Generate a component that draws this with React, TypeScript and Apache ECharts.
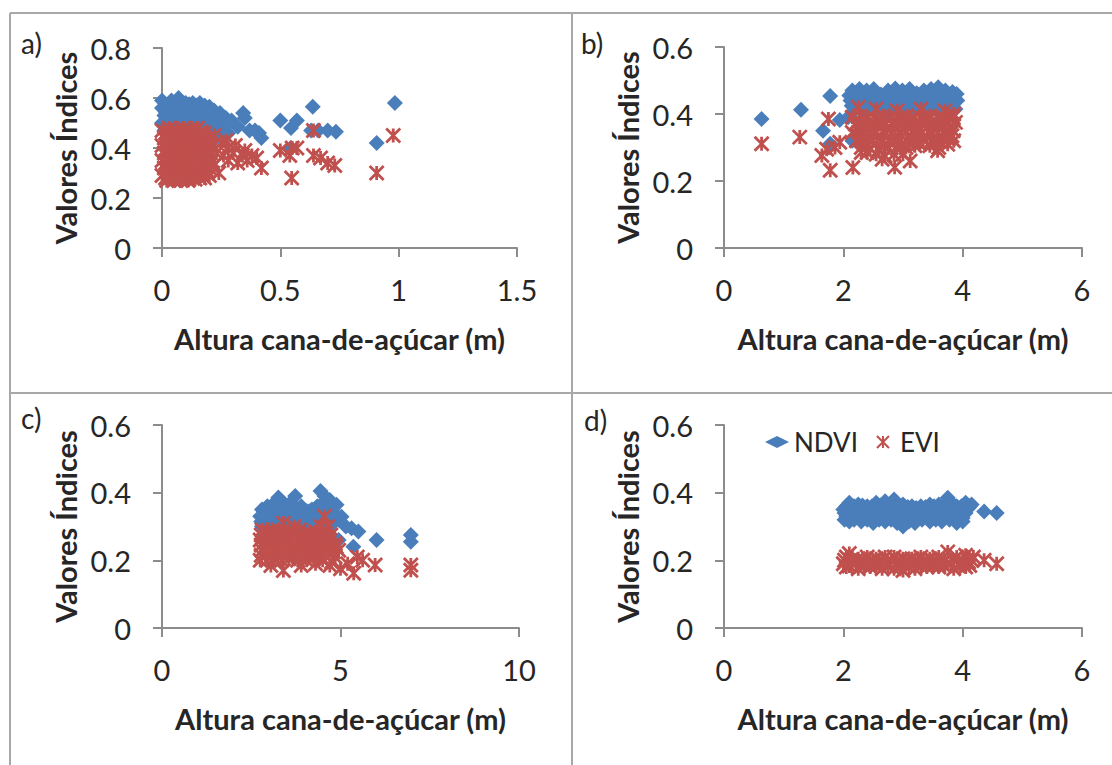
import React, { useEffect, useRef } from 'react';
import * as echarts from 'echarts';

const FONT = 'Lato, "DejaVu Sans", sans-serif';
const BLUE = '#4A7EBB';
const RED = '#C0504D';
const AXIS = '#8C8C8C';
const TEXT = '#262626';
const BORDER = '#A8A8A8';
const STAR = 'path://M0,0L10,10M10,0L0,10M5,0L5,10';

const seriesNames = ['NDVI', 'EVI'];
const panelLabels = ['a)', 'b)', 'c)', 'd)'];
const xTitle = 'Altura cana-de-açúcar (m)';
const yTitle = 'Valores Índices';
const xMax = [1.5, 6, 10, 6];
const xStep = [0.5, 2, 5, 2];
const yMax = [0.8, 0.6, 0.6, 0.6];
const yStep = [0.2, 0.2, 0.2, 0.2];

// Panel a) NDVI
const aNdvi = [
  [0.00, 0.59], [0.02, 0.57], [0.04, 0.59], [0.07, 0.60], [0.10, 0.58], [0.13, 0.58], [0.16, 0.58], [0.18, 0.57],
  [0.015, 0.575], [0.055, 0.58], [0.085, 0.57], [0.115, 0.575], [0.145, 0.57], [0.175, 0.56], [0.20, 0.565],
  [0.00, 0.56], [0.03, 0.55], [0.06, 0.56], [0.09, 0.55], [0.12, 0.56], [0.15, 0.55], [0.19, 0.55], [0.22, 0.55],
  [0.015, 0.545], [0.045, 0.54], [0.08, 0.545], [0.135, 0.54], [0.165, 0.54], [0.21, 0.54],
  [0.01, 0.53], [0.04, 0.52], [0.07, 0.53], [0.11, 0.52], [0.14, 0.53], [0.17, 0.52], [0.20, 0.53], [0.245, 0.54],
  [0.02, 0.515], [0.055, 0.51], [0.09, 0.515], [0.125, 0.515], [0.18, 0.51], [0.22, 0.52],
  [0.00, 0.50], [0.03, 0.49], [0.06, 0.50], [0.09, 0.49], [0.12, 0.50], [0.16, 0.49], [0.19, 0.50], [0.23, 0.50], [0.27, 0.52],
  [0.02, 0.485], [0.07, 0.485], [0.10, 0.48], [0.14, 0.485], [0.17, 0.48], [0.215, 0.49], [0.26, 0.49],
  [0.01, 0.47], [0.05, 0.46], [0.08, 0.47], [0.11, 0.46], [0.14, 0.47], [0.18, 0.46], [0.21, 0.47], [0.25, 0.465],
  [0.02, 0.44], [0.06, 0.43], [0.10, 0.44], [0.147, 0.425], [0.19, 0.44], [0.23, 0.44],
  [0.294, 0.51], [0.32, 0.485], [0.343, 0.54], [0.35, 0.52], [0.37, 0.47], [0.393, 0.47], [0.41, 0.46], [0.42, 0.44], [0.28, 0.46],
  [0.50, 0.51], [0.545, 0.48], [0.57, 0.51], [0.545, 0.40], [0.637, 0.565], [0.63, 0.47], [0.66, 0.47], [0.70, 0.47],
  [0.735, 0.465], [0.907, 0.42], [0.984, 0.58]
];
// Panel a) EVI
const aEvi = [
  [0.00, 0.47], [0.03, 0.48], [0.06, 0.47], [0.09, 0.48], [0.12, 0.47], [0.15, 0.48], [0.18, 0.46],
  [0.015, 0.46], [0.045, 0.465], [0.075, 0.46], [0.105, 0.465], [0.135, 0.46], [0.165, 0.465],
  [0.01, 0.44], [0.04, 0.45], [0.07, 0.44], [0.10, 0.45], [0.13, 0.44], [0.16, 0.45], [0.19, 0.43],
  [0.02, 0.43], [0.05, 0.425], [0.085, 0.43], [0.115, 0.425], [0.145, 0.43], [0.175, 0.42], [0.20, 0.44],
  [0.00, 0.41], [0.03, 0.42], [0.06, 0.41], [0.09, 0.42], [0.12, 0.41], [0.15, 0.42], [0.18, 0.40], [0.21, 0.41],
  [0.015, 0.395], [0.05, 0.40], [0.08, 0.395], [0.11, 0.40], [0.145, 0.395], [0.17, 0.38], [0.20, 0.39],
  [0.01, 0.38], [0.04, 0.39], [0.07, 0.38], [0.10, 0.39], [0.13, 0.38], [0.16, 0.39], [0.19, 0.37],
  [0.02, 0.365], [0.05, 0.37], [0.08, 0.365], [0.11, 0.37], [0.14, 0.365], [0.17, 0.36], [0.20, 0.37],
  [0.00, 0.35], [0.03, 0.36], [0.06, 0.35], [0.09, 0.36], [0.12, 0.35], [0.15, 0.36], [0.18, 0.34], [0.21, 0.35],
  [0.015, 0.34], [0.05, 0.345], [0.085, 0.34], [0.115, 0.34], [0.145, 0.345], [0.17, 0.32], [0.20, 0.32],
  [0.01, 0.32], [0.04, 0.33], [0.07, 0.32], [0.10, 0.33], [0.13, 0.32], [0.16, 0.33], [0.19, 0.31],
  [0.02, 0.31], [0.05, 0.305], [0.08, 0.31], [0.11, 0.31], [0.14, 0.31], [0.165, 0.295],
  [0.00, 0.29], [0.03, 0.30], [0.06, 0.29], [0.09, 0.30], [0.12, 0.29], [0.15, 0.30], [0.18, 0.28],
  [0.015, 0.28], [0.045, 0.285], [0.075, 0.28], [0.105, 0.285], [0.13, 0.28], [0.16, 0.28],
  [0.02, 0.27], [0.05, 0.27], [0.08, 0.27], [0.11, 0.27], [0.14, 0.275],
  [0.22, 0.45], [0.25, 0.42], [0.27, 0.43], [0.23, 0.38], [0.26, 0.37], [0.28, 0.35], [0.30, 0.38], [0.32, 0.34],
  [0.31, 0.41], [0.35, 0.39], [0.36, 0.35], [0.38, 0.37], [0.40, 0.36], [0.42, 0.32], [0.24, 0.30], [0.22, 0.33],
  [0.20, 0.29], [0.50, 0.39], [0.54, 0.37], [0.55, 0.40], [0.57, 0.40], [0.548, 0.28], [0.64, 0.47], [0.64, 0.37],
  [0.67, 0.36], [0.70, 0.34], [0.73, 0.33], [0.907, 0.30], [0.977, 0.45], [0.34, 0.37], [0.28, 0.40]
];
// Panel b) NDVI
const bNdvi = [
  [2.15, 0.47], [2.27, 0.475], [2.39, 0.47], [2.51, 0.475], [2.63, 0.458], [2.75, 0.47], [2.87, 0.476], [2.99, 0.47],
  [3.11, 0.475], [3.23, 0.462], [3.35, 0.47], [3.47, 0.475], [3.59, 0.48], [3.71, 0.47], [3.83, 0.466],
  [2.10, 0.455], [2.21, 0.458], [2.33, 0.455], [2.45, 0.458], [2.57, 0.452], [2.69, 0.456], [2.81, 0.458], [2.93, 0.455],
  [3.05, 0.457], [3.17, 0.45], [3.29, 0.456], [3.41, 0.458], [3.53, 0.455], [3.65, 0.457], [3.77, 0.455], [3.90, 0.46],
  [2.12, 0.44], [2.25, 0.442], [2.38, 0.44], [2.51, 0.438], [2.64, 0.44], [2.77, 0.442], [2.90, 0.44], [3.03, 0.438],
  [3.16, 0.44], [3.29, 0.442], [3.42, 0.44], [3.55, 0.438], [3.68, 0.44], [3.81, 0.442], [3.91, 0.44],
  [2.14, 0.425], [2.28, 0.422], [2.42, 0.425], [2.56, 0.428], [2.70, 0.425], [2.84, 0.422], [2.98, 0.425], [3.12, 0.428],
  [3.26, 0.425], [3.40, 0.422], [3.54, 0.425], [3.68, 0.428], [3.82, 0.425],
  [2.18, 0.41], [2.35, 0.412], [2.55, 0.41], [2.75, 0.408], [2.95, 0.41], [3.15, 0.40], [3.35, 0.41], [3.55, 0.412],
  [3.75, 0.41], [3.88, 0.415],
  [2.15, 0.32], [2.08, 0.39], [3.05, 0.38], [3.20, 0.36], [2.60, 0.37], [3.60, 0.37],
  [0.63, 0.385], [1.29, 0.413], [1.78, 0.454], [1.66, 0.35], [1.94, 0.382], [1.78, 0.311]
];
// Panel b) EVI
const bEvi = [
  [2.25, 0.42], [2.55, 0.415], [2.90, 0.41], [3.30, 0.415], [3.70, 0.41], [3.85, 0.40],
  [2.15, 0.39], [2.28, 0.395], [2.41, 0.39], [2.54, 0.385], [2.67, 0.395], [2.80, 0.39], [2.93, 0.385], [3.06, 0.395],
  [3.19, 0.39], [3.32, 0.385], [3.45, 0.395], [3.58, 0.39], [3.71, 0.385], [3.84, 0.39],
  [2.36, 0.382], [2.62, 0.38], [2.88, 0.38], [3.14, 0.38], [3.40, 0.38], [3.66, 0.38],
  [2.20, 0.37], [2.33, 0.372], [2.46, 0.368], [2.59, 0.37], [2.72, 0.372], [2.85, 0.368], [2.98, 0.37], [3.11, 0.372],
  [3.24, 0.368], [3.37, 0.37], [3.50, 0.372], [3.63, 0.368], [3.76, 0.37], [3.88, 0.375],
  [2.27, 0.357], [2.47, 0.357], [2.73, 0.356], [2.99, 0.357], [3.26, 0.356], [3.52, 0.357], [3.78, 0.36],
  [2.15, 0.345], [2.28, 0.347], [2.41, 0.343], [2.54, 0.345], [2.67, 0.347], [2.80, 0.343], [2.93, 0.345], [3.06, 0.347],
  [3.19, 0.343], [3.32, 0.345], [3.45, 0.347], [3.58, 0.343], [3.71, 0.345], [3.84, 0.35],
  [2.29, 0.332], [2.57, 0.333], [2.86, 0.332], [3.13, 0.333], [3.40, 0.332], [3.66, 0.333], [3.82, 0.335],
  [2.22, 0.32], [2.36, 0.318], [2.50, 0.322], [2.64, 0.32], [2.78, 0.318], [2.92, 0.322], [3.06, 0.32], [3.20, 0.318],
  [3.34, 0.322], [3.48, 0.32], [3.62, 0.318], [3.76, 0.325],
  [2.37, 0.31], [2.68, 0.308], [2.98, 0.31], [3.28, 0.31], [3.55, 0.312], [3.85, 0.32],
  [2.30, 0.30], [2.45, 0.298], [2.60, 0.295], [2.75, 0.30], [2.90, 0.298], [3.05, 0.30], [3.20, 0.305], [3.45, 0.305],
  [3.60, 0.30], [3.75, 0.31],
  [2.55, 0.28], [2.70, 0.275], [2.85, 0.28], [3.00, 0.28], [2.40, 0.285],
  [0.63, 0.311], [1.27, 0.331], [1.75, 0.385], [1.64, 0.276], [1.78, 0.232], [2.16, 0.24], [1.94, 0.316], [1.72, 0.295],
  [1.86, 0.30], [2.86, 0.241], [3.12, 0.26], [2.65, 0.265], [3.58, 0.29], [2.30, 0.285]
];
// Panel c) NDVI
const cNdvi = [
  [2.80, 0.35], [2.95, 0.36], [3.10, 0.365], [3.26, 0.386], [3.45, 0.365], [3.60, 0.37], [3.73, 0.39], [3.90, 0.36],
  [4.05, 0.345], [4.20, 0.35], [4.35, 0.36], [4.44, 0.405], [4.55, 0.39], [4.70, 0.378], [4.89, 0.364],
  [2.85, 0.345], [3.00, 0.35], [3.15, 0.35], [3.30, 0.355], [3.48, 0.35], [3.65, 0.355], [3.80, 0.35], [3.98, 0.34],
  [4.12, 0.345], [4.28, 0.35], [4.42, 0.36], [4.60, 0.355], [4.78, 0.35],
  [2.75, 0.33], [2.90, 0.33], [3.05, 0.335], [3.20, 0.33], [3.35, 0.335], [3.50, 0.33], [3.65, 0.335], [3.80, 0.33],
  [3.95, 0.325], [4.10, 0.33], [4.25, 0.33], [4.40, 0.335], [4.55, 0.33], [4.75, 0.34],
  [2.78, 0.315], [2.93, 0.315], [3.08, 0.318], [3.23, 0.315], [3.38, 0.318], [3.53, 0.315], [3.68, 0.318], [3.83, 0.315],
  [3.98, 0.31], [4.13, 0.315], [4.28, 0.318], [4.43, 0.315], [4.58, 0.318], [4.73, 0.32], [4.88, 0.33],
  [2.80, 0.30], [2.95, 0.30], [3.10, 0.30], [3.25, 0.30], [3.40, 0.30], [3.55, 0.30], [3.70, 0.30], [3.85, 0.30],
  [4.00, 0.30], [4.15, 0.29], [4.30, 0.30], [4.45, 0.30], [4.60, 0.30], [4.80, 0.31], [4.95, 0.32],
  [2.85, 0.27], [3.20, 0.27], [3.60, 0.27], [4.00, 0.27], [4.40, 0.27], [4.75, 0.27],
  [5.03, 0.329], [5.15, 0.30], [5.31, 0.295], [5.50, 0.285], [6.01, 0.26], [5.36, 0.24], [4.95, 0.26],
  [6.97, 0.275], [6.97, 0.255]
];
// Panel c) EVI
const cEvi = [
  [2.80, 0.29], [2.95, 0.285], [3.10, 0.29], [3.25, 0.29], [3.40, 0.31], [3.55, 0.29], [3.70, 0.30], [3.85, 0.29],
  [4.00, 0.28], [4.15, 0.28], [4.30, 0.285], [4.45, 0.30], [4.55, 0.33], [4.65, 0.30],
  [2.78, 0.275], [2.93, 0.275], [3.08, 0.275], [3.23, 0.278], [3.38, 0.28], [3.53, 0.275], [3.68, 0.28], [3.83, 0.275],
  [3.98, 0.27], [4.13, 0.268], [4.28, 0.272], [4.43, 0.28], [4.58, 0.28], [4.73, 0.275],
  [2.75, 0.26], [2.90, 0.26], [3.05, 0.26], [3.20, 0.26], [3.35, 0.26], [3.50, 0.26], [3.65, 0.26], [3.80, 0.26],
  [3.95, 0.255], [4.10, 0.255], [4.25, 0.26], [4.40, 0.26], [4.55, 0.26], [4.70, 0.26], [4.85, 0.25],
  [2.78, 0.245], [2.93, 0.245], [3.08, 0.245], [3.23, 0.245], [3.38, 0.245], [3.53, 0.245], [3.68, 0.245], [3.83, 0.24],
  [3.98, 0.24], [4.13, 0.24], [4.28, 0.245], [4.43, 0.245], [4.58, 0.24], [4.73, 0.24], [4.88, 0.24],
  [2.80, 0.23], [2.95, 0.23], [3.10, 0.23], [3.25, 0.23], [3.40, 0.23], [3.55, 0.23], [3.70, 0.23], [3.85, 0.225],
  [4.00, 0.23], [4.15, 0.23], [4.30, 0.23], [4.45, 0.225], [4.60, 0.23], [4.80, 0.225], [4.95, 0.23],
  [2.78, 0.215], [2.93, 0.215], [3.08, 0.215], [3.23, 0.215], [3.38, 0.215], [3.53, 0.215], [3.68, 0.215], [3.83, 0.21],
  [3.98, 0.215], [4.13, 0.215], [4.28, 0.215], [4.43, 0.21], [4.58, 0.215], [4.85, 0.21],
  [2.75, 0.20], [2.95, 0.20], [3.15, 0.205], [3.35, 0.20], [3.55, 0.205], [3.80, 0.20], [4.05, 0.20], [4.25, 0.205],
  [4.50, 0.20], [4.75, 0.195],
  [3.40, 0.17], [3.05, 0.185], [3.90, 0.185], [4.30, 0.19], [4.70, 0.185], [5.00, 0.175], [5.37, 0.162], [5.47, 0.21],
  [5.62, 0.20], [5.20, 0.19], [5.97, 0.186], [6.97, 0.186], [6.97, 0.171]
];
// Panel d) NDVI
const dNdvi = [
  [2.10, 0.37], [2.25, 0.365], [2.40, 0.36], [2.55, 0.37], [2.70, 0.375], [2.85, 0.38], [3.00, 0.365], [3.15, 0.36],
  [3.30, 0.36], [3.45, 0.365], [3.60, 0.365], [3.75, 0.385], [3.90, 0.36], [4.05, 0.37], [4.15, 0.365],
  [2.05, 0.36], [2.18, 0.36], [2.32, 0.362], [2.48, 0.36], [2.62, 0.362], [2.78, 0.365], [2.92, 0.36], [3.08, 0.358],
  [3.22, 0.355], [3.38, 0.358], [3.52, 0.36], [3.68, 0.362], [3.84, 0.365], [3.98, 0.36], [4.12, 0.36],
  [2.00, 0.35], [2.15, 0.35], [2.30, 0.35], [2.45, 0.35], [2.60, 0.35], [2.75, 0.35], [2.90, 0.35], [3.05, 0.345],
  [3.20, 0.345], [3.35, 0.35], [3.50, 0.35], [3.65, 0.35], [3.80, 0.35], [3.95, 0.35], [4.10, 0.355],
  [2.02, 0.34], [2.12, 0.34], [2.28, 0.34], [2.42, 0.34], [2.58, 0.34], [2.72, 0.34], [2.88, 0.338], [3.02, 0.335],
  [3.18, 0.335], [3.32, 0.34], [3.48, 0.34], [3.62, 0.34], [3.78, 0.34], [3.92, 0.34], [4.05, 0.34],
  [2.05, 0.33], [2.20, 0.33], [2.35, 0.33], [2.50, 0.33], [2.65, 0.33], [2.80, 0.33], [2.95, 0.325], [3.10, 0.325],
  [3.25, 0.33], [3.40, 0.33], [3.55, 0.33], [3.70, 0.33], [3.85, 0.33], [4.00, 0.325],
  [2.02, 0.32], [2.18, 0.32], [2.40, 0.32], [2.60, 0.32], [2.80, 0.32], [3.10, 0.315], [3.32, 0.32], [3.55, 0.32],
  [3.78, 0.32], [4.00, 0.315],
  [2.10, 0.315], [2.30, 0.315], [2.50, 0.31], [2.70, 0.315], [2.90, 0.31], [3.00, 0.30], [3.20, 0.31], [3.45, 0.315],
  [3.65, 0.315], [3.90, 0.31],
  [4.36, 0.344], [4.57, 0.34]
];
// Panel d) EVI
const dEvi = [
  [2.05, 0.21], [2.10, 0.22], [2.25, 0.205], [2.40, 0.21], [2.55, 0.205], [2.70, 0.21], [2.85, 0.21], [3.00, 0.205],
  [3.15, 0.205], [3.30, 0.21], [3.45, 0.205], [3.60, 0.21], [3.75, 0.225], [3.90, 0.21], [4.05, 0.215], [4.18, 0.21],
  [2.02, 0.20], [2.12, 0.20], [2.22, 0.20], [2.35, 0.20], [2.50, 0.20], [2.65, 0.20], [2.80, 0.20], [2.95, 0.20],
  [3.10, 0.20], [3.25, 0.20], [3.40, 0.20], [3.55, 0.20], [3.70, 0.20], [3.85, 0.20], [4.00, 0.20], [4.15, 0.20],
  [2.00, 0.19], [2.15, 0.19], [2.30, 0.19], [2.45, 0.19], [2.60, 0.19], [2.75, 0.19], [2.90, 0.19], [3.05, 0.19],
  [3.20, 0.19], [3.35, 0.19], [3.50, 0.19], [3.65, 0.19], [3.80, 0.19], [3.95, 0.19], [4.10, 0.195],
  [2.10, 0.183], [2.35, 0.183], [2.55, 0.183], [2.75, 0.183], [2.95, 0.18], [3.10, 0.18], [3.30, 0.183], [3.50, 0.183],
  [3.70, 0.183], [3.95, 0.183], [4.12, 0.185],
  [2.05, 0.18], [2.25, 0.175], [2.45, 0.18], [2.65, 0.175], [2.85, 0.175], [3.00, 0.17], [3.20, 0.175], [3.40, 0.18],
  [3.60, 0.18], [3.85, 0.175], [4.05, 0.18],
  [4.36, 0.20], [4.57, 0.19]
];

const ndviData = [aNdvi, bNdvi, cNdvi, dNdvi];
const eviData = [aEvi, bEvi, cEvi, dEvi];

const grids = [
  { left: 162, top: 48, width: 355, height: 200 },
  { left: 724, top: 47, width: 358, height: 201 },
  { left: 162, top: 425, width: 357, height: 203 },
  { left: 724, top: 425, width: 358, height: 203 }
];
const labelPos = [
  [21, 43], [581, 43], [21, 418], [584, 420]
];

export default function App() {
  const ref = useRef<HTMLDivElement>(null);
  useEffect(() => {
    if (!ref.current) return;
    const chart = echarts.init(ref.current, undefined, { renderer: 'svg' });
    const axisLine = { show: true, onZero: false, lineStyle: { color: AXIS, width: 2 } };
    const axisTick = { show: true, length: 9, lineStyle: { color: AXIS, width: 2 } };
    const labelStyle = { fontFamily: FONT, fontSize: 29, color: TEXT };
    const nameStyle = { fontFamily: FONT, fontSize: 29, fontWeight: 'bold', color: TEXT };

    const series: any[] = [];
    for (let i = 0; i < 4; i++) {
      series.push({
        name: seriesNames[0], type: 'scatter', xAxisIndex: i, yAxisIndex: i,
        data: ndviData[i], symbol: 'diamond', symbolSize: 16,
        itemStyle: { color: BLUE, opacity: 1 }
      });
      series.push({
        name: seriesNames[1], type: 'scatter', xAxisIndex: i, yAxisIndex: i,
        data: eviData[i], symbol: STAR, symbolSize: 14,
        itemStyle: { color: RED, borderColor: RED, borderWidth: 2.8, opacity: 1 }
      });
    }

    const graphics: any[] = [
      { type: 'line', shape: { x1: 10, y1: 13, x2: 1112, y2: 13 }, style: { stroke: BORDER, lineWidth: 2 } },
      { type: 'line', shape: { x1: 10, y1: 13, x2: 10, y2: 765 }, style: { stroke: BORDER, lineWidth: 2 } },
      { type: 'line', shape: { x1: 572, y1: 13, x2: 572, y2: 765 }, style: { stroke: BORDER, lineWidth: 2 } },
      { type: 'line', shape: { x1: 10, y1: 393, x2: 1112, y2: 393 }, style: { stroke: BORDER, lineWidth: 2 } }
    ];
    panelLabels.forEach((t, i) => {
      graphics.push({
        type: 'text', x: labelPos[i][0], y: labelPos[i][1],
        style: { text: t, fontFamily: FONT, fontSize: 28, fill: TEXT, verticalAlign: 'middle' }
      });
    });

    chart.setOption({
      animation: false,
      backgroundColor: '#ffffff',
      grid: grids,
      legend: {
        data: [{ name: 'NDVI', icon: 'diamond' }, { name: 'EVI', icon: STAR }],
        left: 760, top: 424, itemWidth: 24, itemHeight: 12, itemGap: 18,
        selectedMode: false,
        textStyle: { fontFamily: FONT, fontSize: 26, color: TEXT }
      },
      xAxis: grids.map((g, i) => ({
        type: 'value', gridIndex: i, min: 0, max: xMax[i], interval: xStep[i],
        name: xTitle, nameLocation: 'middle', nameGap: 76, nameTextStyle: nameStyle,
        axisLine, axisTick, axisLabel: { ...labelStyle, margin: 27 }, splitLine: { show: false }
      })),
      yAxis: grids.map((g, i) => ({
        type: 'value', gridIndex: i, min: 0, max: yMax[i], interval: yStep[i],
        name: yTitle, nameLocation: 'middle', nameGap: 82, nameTextStyle: nameStyle,
        axisLine, axisTick, axisLabel: { ...labelStyle, margin: 31 }, splitLine: { show: false }
      })),
      series,
      graphic: graphics
    });
    return () => chart.dispose();
  }, []);
  return <div ref={ref} style={{ position: 'fixed', left: 0, top: 0, width: 1112, height: 765 }} />;
}
